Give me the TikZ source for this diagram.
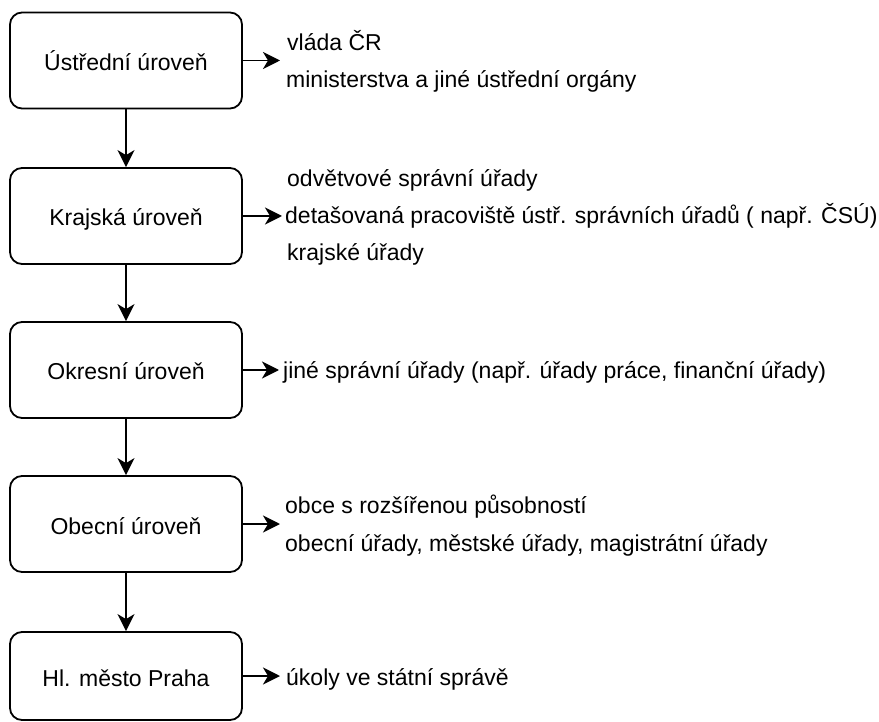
\documentclass[tikz,border=0pt]{standalone}
\usepackage{fontspec}
\setmainfont{Liberation Sans}
\usetikzlibrary{arrows.meta}
\begin{document}
\begin{tikzpicture}[x=1pt,y=-1pt,
  lvl/.style={draw, line width=1.8pt, rounded corners=12pt, minimum width=232pt,
    minimum height=96pt, inner sep=0pt, text height=20pt, text depth=0pt,
    font=\fontsize{23}{28}\selectfont},
  item/.style={anchor=base west, inner sep=0pt, font=\fontsize{23}{28}\selectfont},
  conn/.style={line width=1.8pt, -{Stealth[length=17pt,width=17pt,inset=5pt]}}]
\useasboundingbox (0,0) rectangle (879,722);
% level boxes
\node[lvl] (b1) at (126,60.5) {Ústřední úroveň};
\node[lvl] (b2) at (126,216) {Krajská úroveň};
\node[lvl] (b3) at (126,370) {Okresní úroveň};
\node[lvl] (b4) at (126,524) {Obecní úroveň};
\node[lvl, minimum height=88pt] (b5) at (126,676) {Hl. město Praha};
% vertical connectors
\draw[conn] (b1) -- (b2);
\draw[conn] (b2) -- (b3);
\draw[conn] (b3) -- (b4);
\draw[conn] (b4) -- (b5);
% arrow ends
\coordinate (t1) at (280,60.5);
\coordinate (t2) at (282,216);
\coordinate (t3) at (279,370);
\coordinate (t4) at (280,524);
\coordinate (t5) at (280,676);
\draw[conn] (b1.east) -- (t1);
\draw[conn] (b2.east) -- (t2);
\draw[conn] (b3.east) -- (t3);
\draw[conn] (b4.east) -- (t4);
\draw[conn] (b5.east) -- (t5);
% texts
\node[item] (a1) at (287,51) {vláda ČR};
\node[item] (a2) at (286,88) {ministerstva a jiné ústřední orgány};
\node[item] (c1) at (287,187) {odvětvové správní úřady};
\node[item] (c2) at (285,224) {detašovaná pracoviště ústř. správních úřadů ( např. ČSÚ)};
\node[item] (c3) at (287,261) {krajské úřady};
\node[item] (d1) at (283,378) {jiné správní úřady (např. úřady práce, finanční úřady)};
\node[item] (e1) at (285,513) {obce s rozšířenou působností};
\node[item] (e2) at (285,551) {obecní úřady, městské úřady, magistrátní úřady};
\node[item] (f1) at (286,685) {úkoly ve státní správě};
\end{tikzpicture}
\end{document}
